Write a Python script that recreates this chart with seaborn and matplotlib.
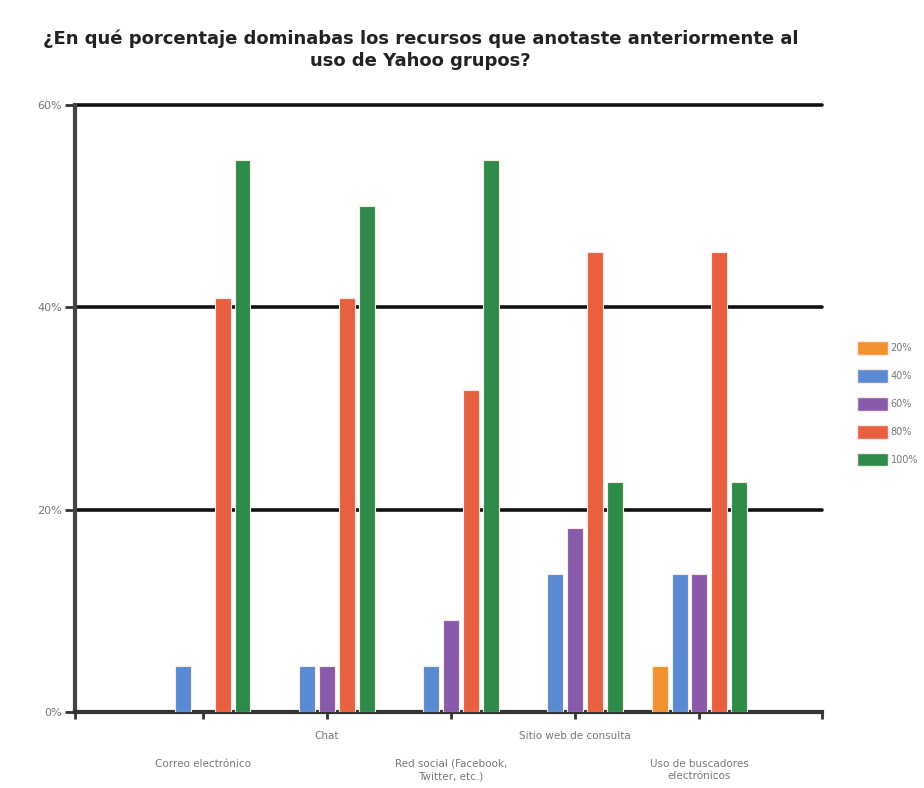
import matplotlib
matplotlib.use("Agg")
import matplotlib.pyplot as plt
import seaborn as sns
import pandas as pd
from matplotlib.patches import Patch

categories = ["Correo electrónico", "Chat", "Red social (Facebook,\nTwitter, etc.)",
              "Sitio web de consulta", "Uso de buscadores\nelectrónicos"]
levels = ["20%", "40%", "60%", "80%", "100%"]
v20 = [0.0, 0.0, 0.0, 0.0, 4.55]
v40 = [4.55, 4.55, 4.55, 13.64, 13.64]
v60 = [0.0, 4.55, 9.09, 18.18, 13.64]
v80 = [40.91, 40.91, 31.82, 45.45, 45.45]
v100 = [54.55, 50.0, 54.55, 22.73, 22.73]
yticks = [0, 20, 40, 60]
ytick_labels = ["0%", "20%", "40%", "60%"]
colors = ["#F0922E", "#5A8AD2", "#8A5AAA", "#E8603F", "#2E8B4A"]

rows = []
for lvl, vals in zip(levels, [v20, v40, v60, v80, v100]):
    for c, v in zip(categories, vals):
        rows.append({"cat": c, "lvl": lvl, "val": v})
df = pd.DataFrame(rows)

sns.set_theme(style="white")
plt.rcParams['font.family'] = ['DejaVu Sans']

fig = plt.figure(figsize=(9.24, 7.88), dpi=100)
ax = fig.add_axes([0.081, 0.0964, 0.809, 0.7706])

sns.barplot(data=df, x="cat", y="val", hue="lvl", hue_order=levels, order=categories,
            palette=colors, saturation=1, width=0.8, ax=ax, legend=False, zorder=3,
            edgecolor="#fbe9e4", linewidth=0.8)
for p in ax.patches:
    w = p.get_width()
    p.set_width(w * 0.8)
    p.set_x(p.get_x() + w * 0.1)
    if p.get_height() == 0:
        p.set_visible(False)

ax.set_ylim(0, 60)
ax.set_xlim(-1.03, 4.99)
ax.set_yticks(yticks)
ax.set_yticklabels(ytick_labels, color="#777777", fontsize=8)
for y in yticks[1:]:
    ax.axhline(y, color="#111111", lw=2.6, zorder=1, clip_on=False)

ax.set_xticks([-1.03, 0, 1, 2, 3, 4, 4.99])
ax.set_xticklabels([""] * 7)
ax.tick_params(axis="x", which="both", length=5, width=2, color="#333333", direction="out", bottom=True)
ax.tick_params(axis="y", length=7, width=2, color="#333333", direction="out", left=True, pad=2)
ax.set_xlabel("")
ax.set_ylabel("")
for s in ["top", "right"]:
    ax.spines[s].set_visible(False)
ax.spines["left"].set_color("#444444")
ax.spines["left"].set_linewidth(3)
ax.spines["bottom"].set_color("#333333")
ax.spines["bottom"].set_linewidth(3)

xtr = ax.get_xaxis_transform()
for i, c in enumerate(categories):
    if i % 2 == 1:
        ax.text(i, -0.032, c, transform=xtr, ha="center", va="top", fontsize=7.5, color="#777777")
    else:
        ax.text(i, -0.077, c, transform=xtr, ha="center", va="top", fontsize=7.5, color="#777777",
                linespacing=1.3)

fig.suptitle("¿En qué porcentaje dominabas los recursos que anotaste anteriormente al\nuso de Yahoo grupos?",
             x=0.455, y=0.963, fontsize=13, fontweight="bold", color="#222222", linespacing=1.3)

handles = [Patch(facecolor=c, edgecolor="#fbe9e4") for c in colors]
fig.legend(handles, levels, loc="upper left", bbox_to_anchor=(0.927, 0.567), frameon=False,
           fontsize=7, handlelength=3.2, handleheight=1.8, labelspacing=1.45,
           handletextpad=0.3, borderaxespad=0, borderpad=0, labelcolor="#777777")

fig.savefig("out.png", dpi=100)
